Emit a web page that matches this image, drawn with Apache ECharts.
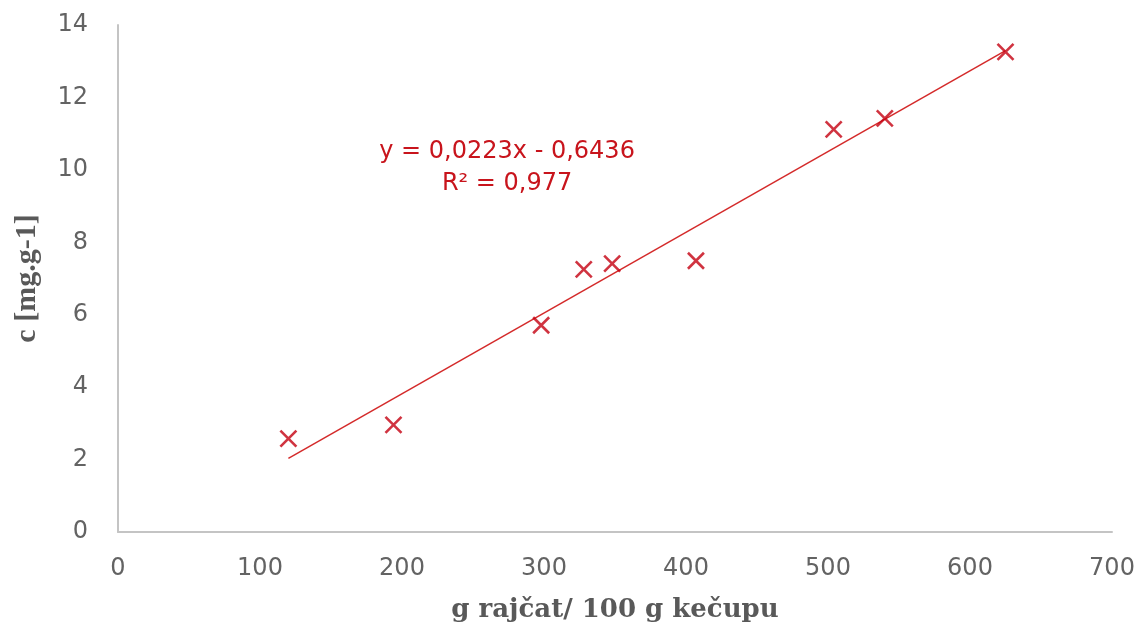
<!DOCTYPE html>
<html>
<head>
<meta charset="utf-8">
<script src="https://cdn.jsdelivr.net/npm/echarts@6/dist/echarts.min.js"></script>
<style>
html,body{margin:0;padding:0;background:#fff;}
#chart{width:1142px;height:628px;}
</style>
</head>
<body>
<div id="chart"></div>
<script>
// Data
const xValues = [120, 194, 298, 328, 348, 407, 504, 540, 625];
const yValues = [2.58, 2.96, 5.71, 7.25, 7.41, 7.49, 11.12, 11.42, 13.26];
const trendSlope = 0.0223;
const trendIntercept = -0.6436;
const equationLines = ['y = 0,0223x - 0,6436', 'R² = 0,977'];
const xTitle = 'g rajčat/ 100 g kečupu';
const yTitle = 'c [mg.g-1]';
const labelAnchor = [274, 10.05];

const points = xValues.map((x, i) => [x, yValues[i]]);
const xMin = Math.min(...xValues), xMax = Math.max(...xValues);
const trend = [[xMin, trendSlope * xMin + trendIntercept], [xMax, trendSlope * xMax + trendIntercept]];

const chart = echarts.init(document.getElementById('chart'), null, {renderer: 'canvas'});
const axisLabelStyle = {color: '#636363', fontFamily: 'DejaVu Sans', fontSize: 24};
const axisLineStyle = {show: true, lineStyle: {color: '#c4c4c4', width: 2}};
const option = {
  animation: false,
  backgroundColor: '#ffffff',
  grid: {left: 118, right: 30, top: 25, bottom: 93, containLabel: false},
  xAxis: {
    type: 'value', min: 0, max: 700, interval: 100,
    axisLine: axisLineStyle, axisTick: {show: false}, splitLine: {show: false},
    axisLabel: Object.assign({margin: 25}, axisLabelStyle),
    name: xTitle, nameLocation: 'middle', nameGap: 65,
    nameTextStyle: {color: '#595959', fontFamily: 'DejaVu Serif', fontWeight: 'bold', fontSize: 26}
  },
  yAxis: {
    type: 'value', min: 0, max: 14, interval: 2,
    axisLine: axisLineStyle, axisTick: {show: false}, splitLine: {show: false},
    axisLabel: Object.assign({margin: 30}, axisLabelStyle),
    name: yTitle, nameLocation: 'middle', nameGap: 76,
    nameTextStyle: {color: '#595959', fontFamily: 'Liberation Serif', fontWeight: 'bold', fontSize: 30}
  },
  series: [
    {
      type: 'line', data: trend, symbol: 'none', silent: true,
      lineStyle: {color: '#d42a2a', width: 1.5}, z: 2
    },
    {
      type: 'scatter', data: points,
      symbol: 'path://M0,0L10,10M10,0L0,10', symbolSize: 16,
      itemStyle: {color: 'rgba(0,0,0,0)', borderColor: '#c40010', borderWidth: 2.6}, z: 3
    }
  ]
};
chart.setOption(option);
const p = chart.convertToPixel({gridIndex: 0}, labelAnchor);
chart.setOption({
  graphic: [{
    type: 'text', x: p[0], y: p[1],
    style: {
      text: equationLines.join('\n'), fill: '#c8141c',
      font: '24px "DejaVu Sans"', align: 'center', verticalAlign: 'middle', lineHeight: 32
    }
  }]
});
</script>
</body>
</html>
